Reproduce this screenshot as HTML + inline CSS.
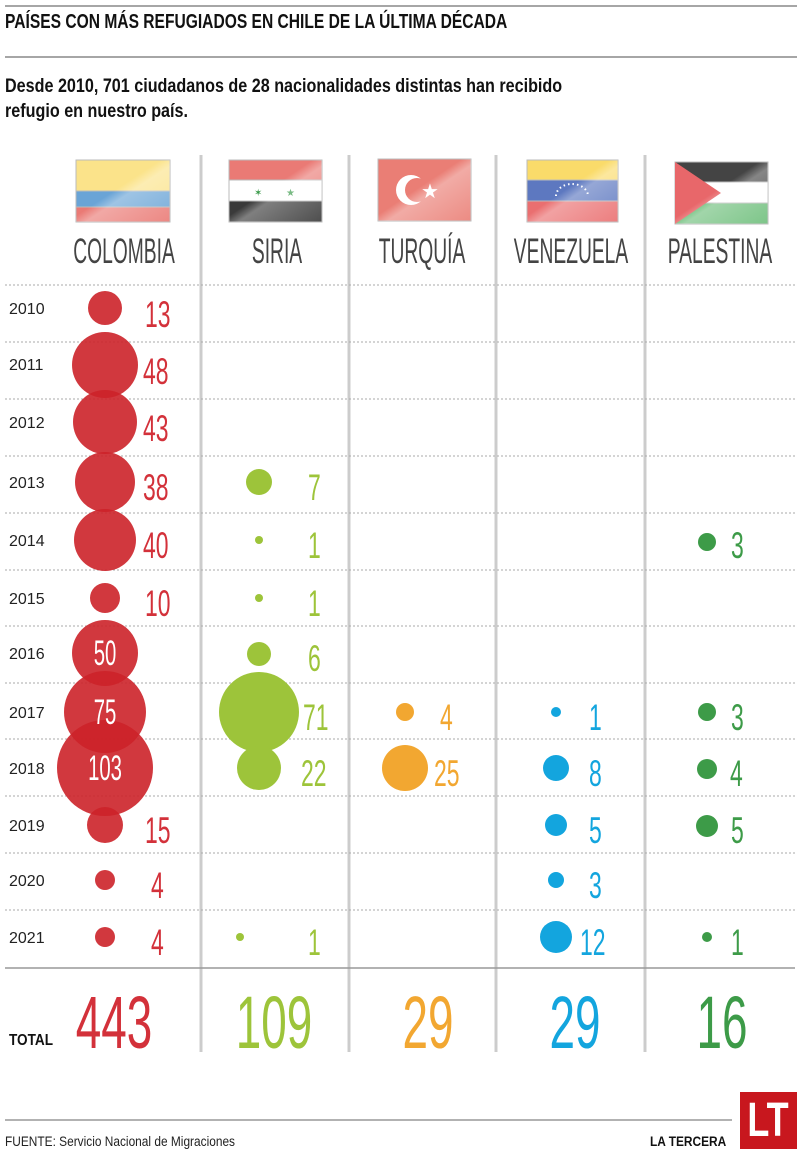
<!DOCTYPE html>
<html><head><meta charset="utf-8"><style>
html,body{margin:0;padding:0;background:#fff;}
svg{display:block;}
text{font-family:"Liberation Sans",sans-serif;}
</style></head><body>
<svg width="800" height="1149" viewBox="0 0 800 1149">
<defs>
<linearGradient id="gl" x1="0" y1="0" x2="1" y2="1">
<stop offset="0.45" stop-color="#fff" stop-opacity="0"/><stop offset="0.55" stop-color="#fff" stop-opacity="0.35"/><stop offset="1" stop-color="#fff" stop-opacity="0.1"/>
</linearGradient>
</defs>
<line x1="5" y1="6" x2="797" y2="6" stroke="#888" stroke-width="1.5"/>
<text transform="translate(5,28) scale(0.78,1)" font-size="20" font-weight="bold" fill="#111">PAÍSES CON MÁS REFUGIADOS EN CHILE DE LA ÚLTIMA DÉCADA</text>
<line x1="5" y1="57" x2="797" y2="57" stroke="#888" stroke-width="1.5"/>
<text transform="translate(5,92) scale(0.85,1)" font-size="19" font-weight="bold" fill="#111">Desde 2010, 701 ciudadanos de 28 nacionalidades distintas han recibido</text>
<text transform="translate(5,117) scale(0.85,1)" font-size="19" font-weight="bold" fill="#111">refugio en nuestro país.</text>

<g stroke="#ccc" stroke-width="3">
<line x1="201" y1="155" x2="201" y2="1052"/><line x1="349" y1="155" x2="349" y2="1052"/>
<line x1="496" y1="155" x2="496" y2="1052"/><line x1="645" y1="155" x2="645" y2="1052"/>
</g>

<g stroke="#bbb" stroke-width="1">
<rect x="76" y="160" width="94" height="31" fill="#fbe38a"/><rect x="76" y="191" width="94" height="16" fill="#6aa4d6"/><rect x="76" y="207" width="94" height="15" fill="#ea7a75"/>
<rect x="229" y="160" width="93" height="20" fill="#ea7a75"/><rect x="229" y="180" width="93" height="21" fill="#fff"/><rect x="229" y="201" width="93" height="21" fill="#3a3a3a"/>
<rect x="378" y="159" width="93" height="62" fill="#ea7e75"/>
<rect x="527" y="160" width="91" height="20" fill="#fadb6a"/><rect x="527" y="180" width="91" height="21" fill="#5d78c0"/><rect x="527" y="201" width="91" height="21" fill="#ea6f70"/>
<rect x="675" y="162" width="93" height="20" fill="#444"/><rect x="675" y="182" width="93" height="21" fill="#fff"/><rect x="675" y="203" width="93" height="21" fill="#6fbf7c"/>
</g>
<polygon points="675,162 721,193 675,224" fill="#e8676a"/>
<text x="254" y="196" font-size="10" fill="#3a9a4a">✶</text><text x="286" y="196" font-size="10" fill="#3a9a4a">★</text>
<circle cx="411" cy="190" r="15" fill="#fff"/><circle cx="417" cy="190" r="12" fill="#ea7e75"/>
<text x="421" y="198" font-size="20" fill="#fff">★</text>
<path d="M556,196 a16,12 0 0 1 32,0" fill="none" stroke="#fff" stroke-width="2" stroke-dasharray="1.5,3"/>
<g fill="url(#gl)"><rect x="76" y="160" width="94" height="62"/><rect x="229" y="160" width="93" height="62"/><rect x="378" y="159" width="93" height="62"/><rect x="527" y="160" width="91" height="62"/><rect x="675" y="162" width="93" height="62"/></g>

<g font-size="35" fill="#444" text-anchor="middle">
<text transform="translate(124,263) scale(0.55,1)">COLOMBIA</text>
<text transform="translate(277,263) scale(0.55,1)">SIRIA</text>
<text transform="translate(422,263) scale(0.55,1)">TURQUÍA</text>
<text transform="translate(571,263) scale(0.55,1)">VENEZUELA</text>
<text transform="translate(720,263) scale(0.55,1)">PALESTINA</text>
</g>

<g stroke="#aaa" stroke-width="1" stroke-dasharray="2,2">
<line x1="5" y1="285" x2="795" y2="285"/><line x1="5" y1="342" x2="795" y2="342"/><line x1="5" y1="399" x2="795" y2="399"/>
<line x1="5" y1="456" x2="795" y2="456"/><line x1="5" y1="513" x2="795" y2="513"/><line x1="5" y1="570" x2="795" y2="570"/>
<line x1="5" y1="626" x2="795" y2="626"/><line x1="5" y1="683" x2="795" y2="683"/><line x1="5" y1="739" x2="795" y2="739"/>
<line x1="5" y1="796" x2="795" y2="796"/><line x1="5" y1="853" x2="795" y2="853"/><line x1="5" y1="910" x2="795" y2="910"/>
</g>
<line x1="5" y1="968" x2="795" y2="968" stroke="#999" stroke-width="1.5"/>

<g font-size="16" fill="#222">
<text x="9" y="314">2010</text><text x="9" y="370">2011</text><text x="9" y="428">2012</text><text x="9" y="488">2013</text>
<text x="9" y="546">2014</text><text x="9" y="604">2015</text><text x="9" y="659">2016</text><text x="9" y="718">2017</text>
<text x="9" y="774">2018</text><text x="9" y="831">2019</text><text x="9" y="886">2020</text><text x="9" y="943">2021</text>
</g>

<g fill="#cc2229" fill-opacity="0.9">
<circle cx="105" cy="308" r="17"/><circle cx="105" cy="365" r="33"/><circle cx="105" cy="422" r="32"/><circle cx="105" cy="482" r="30"/>
<circle cx="105" cy="540" r="31"/><circle cx="105" cy="598" r="15"/><circle cx="105" cy="653" r="33"/><circle cx="105" cy="712" r="41"/>
<circle cx="105" cy="768" r="48"/><circle cx="105" cy="825" r="18"/><circle cx="105" cy="880" r="10"/><circle cx="105" cy="937" r="10"/>
</g>
<g font-size="37" fill="#d3313a">
<text transform="translate(145,327) scale(0.62,1)">13</text><text transform="translate(143,384) scale(0.62,1)">48</text>
<text transform="translate(143,441) scale(0.62,1)">43</text><text transform="translate(143,500) scale(0.62,1)">38</text>
<text transform="translate(143,558) scale(0.62,1)">40</text><text transform="translate(145,616) scale(0.62,1)">10</text>
<text transform="translate(145,843) scale(0.62,1)">15</text><text transform="translate(151,898) scale(0.62,1)">4</text>
<text transform="translate(151,955) scale(0.62,1)">4</text>
</g>
<g font-size="35" fill="#fff" text-anchor="middle">
<text transform="translate(105,665) scale(0.58,1)">50</text><text transform="translate(105,724) scale(0.58,1)">75</text><text transform="translate(105,780) scale(0.58,1)">103</text>
</g>

<g fill="#9dc43a">
<circle cx="259" cy="482" r="13"/><circle cx="259" cy="540" r="4"/><circle cx="259" cy="598" r="4"/><circle cx="259" cy="654" r="12"/>
<circle cx="259" cy="712" r="40"/><circle cx="259" cy="768" r="22"/><circle cx="240" cy="937" r="4"/>
</g>
<g font-size="37" fill="#9dc43a">
<text transform="translate(308,500) scale(0.62,1)">7</text><text transform="translate(308,558) scale(0.62,1)">1</text>
<text transform="translate(308,616) scale(0.62,1)">1</text><text transform="translate(308,671) scale(0.62,1)">6</text>
<text transform="translate(303,730) scale(0.62,1)">71</text><text transform="translate(301,786) scale(0.62,1)">22</text>
<text transform="translate(308,955) scale(0.62,1)">1</text>
</g>

<g fill="#f2a731"><circle cx="405" cy="712" r="9"/><circle cx="405" cy="768" r="23"/></g>
<g font-size="37" fill="#f2a731">
<text transform="translate(440,730) scale(0.62,1)">4</text><text transform="translate(434,786) scale(0.62,1)">25</text>
</g>

<g fill="#13a5de">
<circle cx="556" cy="712" r="5"/><circle cx="556" cy="768" r="13"/><circle cx="556" cy="825" r="11"/><circle cx="556" cy="880" r="8"/><circle cx="556" cy="937" r="16"/>
</g>
<g font-size="37" fill="#13a5de">
<text transform="translate(589,730) scale(0.62,1)">1</text><text transform="translate(589,786) scale(0.62,1)">8</text>
<text transform="translate(589,843) scale(0.62,1)">5</text><text transform="translate(589,898) scale(0.62,1)">3</text>
<text transform="translate(580,955) scale(0.62,1)">12</text>
</g>

<g fill="#3d9b48">
<circle cx="707" cy="542" r="9"/><circle cx="707" cy="712" r="9"/><circle cx="707" cy="769" r="10"/><circle cx="707" cy="826" r="11"/><circle cx="707" cy="937" r="5"/>
</g>
<g font-size="37" fill="#3d9b48">
<text transform="translate(731,558) scale(0.62,1)">3</text><text transform="translate(731,730) scale(0.62,1)">3</text>
<text transform="translate(730,786) scale(0.62,1)">4</text><text transform="translate(731,843) scale(0.62,1)">5</text>
<text transform="translate(731,955) scale(0.62,1)">1</text>
</g>

<text transform="translate(9,1045) scale(0.85,1)" font-size="16" font-weight="bold" fill="#111">TOTAL</text>
<g font-size="74" text-anchor="middle">
<text transform="translate(114,1048) scale(0.62,1)" fill="#d3313a">443</text>
<text transform="translate(274,1048) scale(0.62,1)" fill="#9dc43a">109</text>
<text transform="translate(428,1048) scale(0.62,1)" fill="#f2a731">29</text>
<text transform="translate(575,1048) scale(0.62,1)" fill="#13a5de">29</text>
<text transform="translate(722,1048) scale(0.62,1)" fill="#3d9b48">16</text>
</g>

<line x1="5" y1="1120" x2="732" y2="1120" stroke="#999" stroke-width="1.5"/>
<text transform="translate(5,1146) scale(0.85,1)" font-size="14" fill="#222">FUENTE: Servicio Nacional de Migraciones</text>
<text transform="translate(650,1146) scale(0.85,1)" font-size="14" font-weight="bold" fill="#111">LA TERCERA</text>
<rect x="740" y="1092" width="57" height="57" fill="#c8171e"/>
<text transform="translate(768,1136) scale(0.75,1)" font-size="48" font-weight="bold" fill="#fff" text-anchor="middle">LT</text>
</svg>
</body></html>
